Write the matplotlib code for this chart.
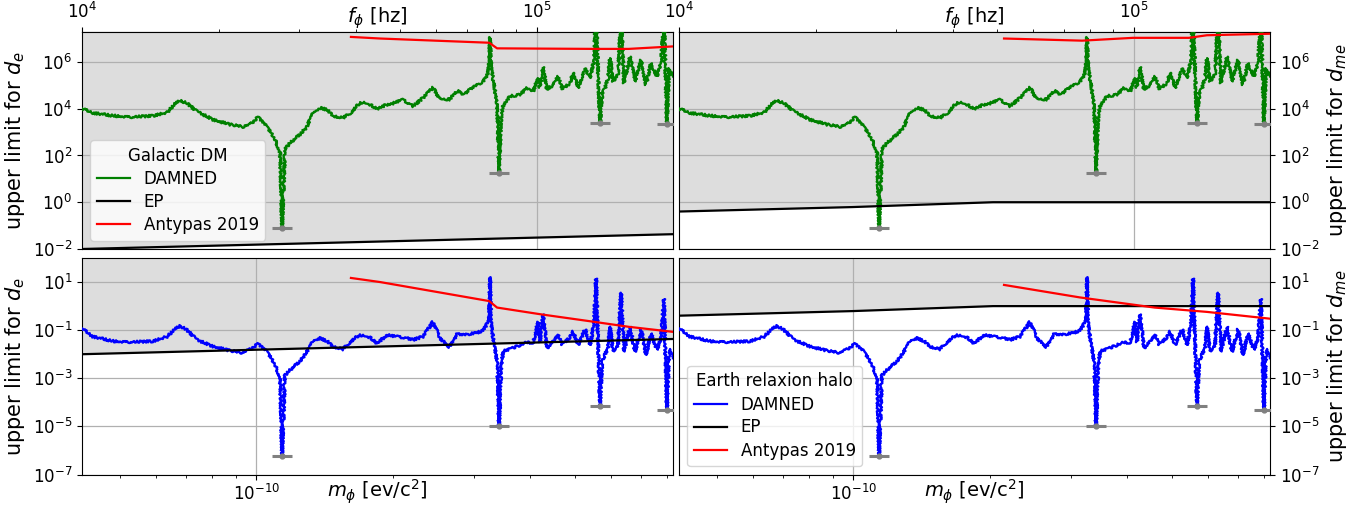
import matplotlib
matplotlib.use("Agg")
import matplotlib.pyplot as plt
import numpy as np
from matplotlib.ticker import FixedLocator, NullLocator, NullFormatter, LogLocator

# ---------------- data ----------------
H_EV = 4.135667696e-15  # eV per Hz (m c^2 = h f)

freq_hz = [1.000e4, 1.057e4, 1.170e4, 1.295e4, 1.432e4, 1.538e4, 1.601e4, 1.642e4, 1.702e4, 1.789e4,
           1.941e4, 2.115e4, 2.259e4, 2.340e4, 2.436e4, 2.550e4, 2.657e4, 2.725e4, 2.752e4, 2.794e4,
           2.865e4, 3.014e4, 3.123e4, 3.219e4, 3.335e4, 3.455e4, 3.561e4, 3.746e4, 3.882e4, 4.043e4,
           4.146e4, 4.295e4, 4.450e4, 4.681e4, 4.825e4, 5.076e4, 5.340e4, 5.617e4, 5.907e4, 6.121e4,
           6.420e4, 6.672e4, 6.878e4, 7.126e4, 7.383e4, 7.610e4, 7.766e4, 7.845e4, 7.885e4, 7.925e4,
           8.006e4, 8.170e4, 8.253e4, 8.337e4, 8.422e4, 8.726e4, 9.176e4, 9.506e4, 9.799e4, 1.005e5,
           1.015e5, 1.031e5, 1.052e5, 1.084e5, 1.112e5, 1.135e5, 1.182e5, 1.200e5, 1.231e5, 1.275e5,
           1.308e5, 1.335e5, 1.348e5, 1.362e5, 1.376e5, 1.390e5, 1.411e5, 1.432e5, 1.447e5, 1.469e5,
           1.507e5, 1.530e5, 1.553e5, 1.601e5, 1.642e5, 1.693e5, 1.736e5, 1.780e5, 1.835e5, 1.873e5,
           1.901e5, 1.930e5, 1.950e5, 1.970e5, 1.990e5]

damned_galactic = [1.0e4, 6.6e3, 5.0e3, 4.4e3, 5.0e3, 6.9e3, 1.6e4, 2.2e4, 1.7e4, 7.6e3,
                   3.4e3, 2.1e3, 1.7e3, 2.1e3, 4.4e3, 1.7e3, 480, 130, 0.078, 180,
                   340, 780, 1.7e3, 7.6e3, 1.07e4, 9.1e3, 4.7e3, 4.0e3, 6.2e3, 1.5e4,
                   2.0e4, 1.5e4, 9.8e3, 1.5e4, 1.7e4, 2.4e4, 1.26e4, 2.9e4, 7.9e4, 2.4e4,
                   2.5e4, 6.0e4, 4.0e4, 6.5e4, 1.05e5, 1.45e5, 2.75e5, 7.4e5, 1.15e7, 8.0e5,
                   1.7e5, 1.7e4, 18, 4.0e3, 1.26e4, 3.4e4, 4.0e4, 7.6e4, 5.4e4, 2.0e5,
                   8.0e4, 6.0e5, 6.5e4, 1.05e5, 2.4e5, 6.9e4, 1.23e5, 3.5e5, 7.6e4, 5.4e5,
                   2.0e5, 1.2e6, 4.0e8, 3.0e5, 2.5e3, 4.0e4, 7.6e4, 2.0e5, 1.45e6, 1.45e5,
                   3.2e5, 1.0e8, 1.23e5, 1.7e6, 1.45e5, 1.2e6, 1.05e5, 8.9e5, 2.4e5, 8.9e5,
                   8.0e7, 2.2e3, 5.4e5, 4.0e5, 2.4e5]

damned_earth = [0.117, 0.054, 0.035, 0.032, 0.035, 0.054, 0.11, 0.15, 0.10, 0.040,
                0.021, 0.014, 0.0115, 0.016, 0.027, 0.013, 3.6e-3, 1.0e-3, 5.8e-7, 1.3e-3,
                2.2e-3, 5.0e-3, 0.013, 0.040, 0.046, 0.035, 0.020, 0.016, 0.032, 0.059,
                0.063, 0.050, 0.028, 0.063, 0.056, 0.050, 0.040, 0.054, 0.22, 0.046,
                0.020, 0.068, 0.063, 0.071, 0.079, 0.10, 0.18, 0.31, 16.0, 0.28,
                0.046, 4.9e-3, 1.0e-5, 2.5e-3, 0.013, 0.017, 0.024, 0.032, 0.028, 0.22,
                0.032, 0.45, 0.018, 0.035, 0.063, 0.025, 0.050, 0.091, 0.024, 0.11,
                0.024, 0.20, 13.8, 0.032, 7.2e-5, 5.0e-3, 0.010, 0.018, 0.14, 0.013,
                0.025, 3.6, 0.013, 0.14, 0.0126, 0.11, 9.3e-3, 0.074, 0.015, 0.046,
                1.95, 5.0e-5, 9.3e-3, 0.016, 6.8e-3]

cap_freq_hz = [2.752e4, 8.253e4, 1.376e5, 1.930e5]
cap_galactic = [0.078, 18, 2.5e3, 2.2e3]
cap_earth = [5.8e-7, 1.0e-5, 7.2e-5, 5.0e-5]

ep_de_freq = [1.0e4, 1.99e5]
ep_de = [0.010, 0.043]
ep_dme_freq = [1.0e4, 2.4e4, 4.9e4, 1.99e5]
ep_dme = [0.40, 0.62, 1.0, 1.0]

antypas_left_freq = [3.90e4, 4.52e4, 7.85e4, 8.17e4, 1.024e5, 1.34e5, 1.59e5, 1.99e5]
antypas_de_galactic = [1.17e7, 1.0e7, 6.6e6, 3.8e6, 3.7e6, 3.6e6, 3.6e6, 4.6e6]
antypas_de_earth = [14.8, 10.0, 1.62, 0.87, 0.45, 0.22, 0.138, 0.085]

antypas_dme_gal_freq = [5.18e4, 7.69e4, 9.95e4, 1.32e5, 1.446e5, 1.99e5]
antypas_dme_galactic = [1.0e7, 8.1e6, 1.07e7, 1.07e7, 1.38e7, 1.6e7]
antypas_dme_earth_freq = [5.18e4, 7.6e4, 1.11e5, 1.446e5, 1.99e5]
antypas_dme_earth = [7.6, 2.3, 0.87, 0.575, 0.30]

top_ylim = (1e-2, 1.9e7)
top_yticks = [1e-2, 1e0, 1e2, 1e4, 1e6]
bot_ylim = (1e-7, 1e2)
bot_yticks = [1e-7, 1e-5, 1e-3, 1e-1, 1e1]
freq_range = (1.0e4, 1.99e5)
freq_major_ticks = [1e4, 1e5]
mass_major_ticks = [1e-10]

# ---------------- figure ----------------
W, HP = 1364, 513
fig = plt.figure(figsize=(W / 100, HP / 100), dpi=100)


def rect(x0, y0, x1, y1):
    return [x0 / W, 1 - y1 / HP, (x1 - x0) / W, (y1 - y0) / HP]


ax_tl = fig.add_axes(rect(82, 32, 673, 249))
ax_tr = fig.add_axes(rect(679, 32, 1270, 249))
ax_bl = fig.add_axes(rect(82, 258, 673, 474.5))
ax_br = fig.add_axes(rect(679, 258, 1270, 474.5))

to_mass = lambda f: np.asarray(f) * H_EV
FILL = '#dddddd'
GRID = '#b0b0b0'


def panel(ax, top, right, damned, caps, color, ep_f, ep_v, an_f, an_v, ylabel, legend_title=None):
    ax.set_xscale('log')
    ax.set_yscale('log')
    ax.fill_between(to_mass(ep_f), ep_v, 1e12, color=FILL, lw=0, zorder=0.5)
    l1, = ax.plot(to_mass(freq_hz), damned, color=color, lw=1.7, zorder=3, label='DAMNED')
    l1.set_sketch_params(scale=1.2, length=1.6, randomness=2.5)
    ax.plot(to_mass(cap_freq_hz), caps, ls='none', marker='_', ms=15, mew=2.2, color='gray', zorder=4)
    ax.plot(to_mass(cap_freq_hz), caps, ls='none', marker='o', ms=3.5, color='gray', zorder=4)
    l2, = ax.plot(to_mass(ep_f), ep_v, color='black', lw=1.6, zorder=3.5, label='EP')
    l3, = ax.plot(to_mass(an_f), an_v, color='red', lw=1.6, zorder=3.5, label='Antypas 2019')
    ax.set_xlim(to_mass(freq_range[0]), to_mass(freq_range[1]))
    if top:
        ax.set_ylim(*top_ylim)
        ax.yaxis.set_major_locator(FixedLocator(top_yticks))
    else:
        ax.set_ylim(*bot_ylim)
        ax.yaxis.set_major_locator(FixedLocator(bot_yticks))
    ax.yaxis.set_minor_locator(NullLocator())
    ax.xaxis.set_major_locator(FixedLocator(mass_major_ticks))
    ax.xaxis.set_minor_locator(LogLocator(base=10, subs=np.arange(2, 10)))
    ax.xaxis.set_minor_formatter(NullFormatter())
    ax.grid(True, axis='y', which='major', color=GRID, lw=0.9)
    ax.tick_params(labelsize=12)
    if right:
        ax.yaxis.tick_right()
        ax.yaxis.set_label_position('right')
    ax.set_ylabel(ylabel, fontsize=15)
    if top:
        ax.tick_params(axis='x', which='both', bottom=False, labelbottom=False)
        sec = ax.secondary_xaxis('top', functions=(lambda m: m / H_EV, lambda f: f * H_EV))
        sec.xaxis.set_major_locator(FixedLocator(freq_major_ticks))
        sec.xaxis.set_minor_locator(LogLocator(base=10, subs=np.arange(2, 10)))
        sec.xaxis.set_minor_formatter(NullFormatter())
        sec.tick_params(labelsize=12)
        sec.set_xlabel(r'$f_\phi$ [hz]', fontsize=14, labelpad=-15)
        for f in freq_major_ticks[1:]:
            ax.axvline(f * H_EV, color=GRID, lw=0.9, zorder=1.5)
    else:
        ax.grid(True, axis='x', which='major', color=GRID, lw=0.9)
        ax.set_xlabel(r'$m_\phi$ [ev/c$^2$]', fontsize=14, labelpad=-19)
    if legend_title:
        leg = ax.legend(handles=[l1, l2, l3], loc='lower left', title=legend_title,
                        fontsize=12, title_fontsize=12, labelspacing=0.3)
        for h in leg.legend_handles:
            h.set_linewidth(1.6)
            h.set_sketch_params(None)
        leg.set_zorder(10)


panel(ax_tl, True, False, damned_galactic, cap_galactic, 'green', ep_de_freq, ep_de,
      antypas_left_freq, antypas_de_galactic, r'upper limit for $d_e$', 'Galactic DM')
panel(ax_tr, True, True, damned_galactic, cap_galactic, 'green', ep_dme_freq, ep_dme,
      antypas_dme_gal_freq, antypas_dme_galactic, r'upper limit for $d_{me}$')
panel(ax_bl, False, False, damned_earth, cap_earth, 'blue', ep_de_freq, ep_de,
      antypas_left_freq, antypas_de_earth, r'upper limit for $d_e$')
panel(ax_br, False, True, damned_earth, cap_earth, 'blue', ep_dme_freq, ep_dme,
      antypas_dme_earth_freq, antypas_dme_earth, r'upper limit for $d_{me}$', 'Earth relaxion halo')

fig.savefig('out.png', dpi=100)
